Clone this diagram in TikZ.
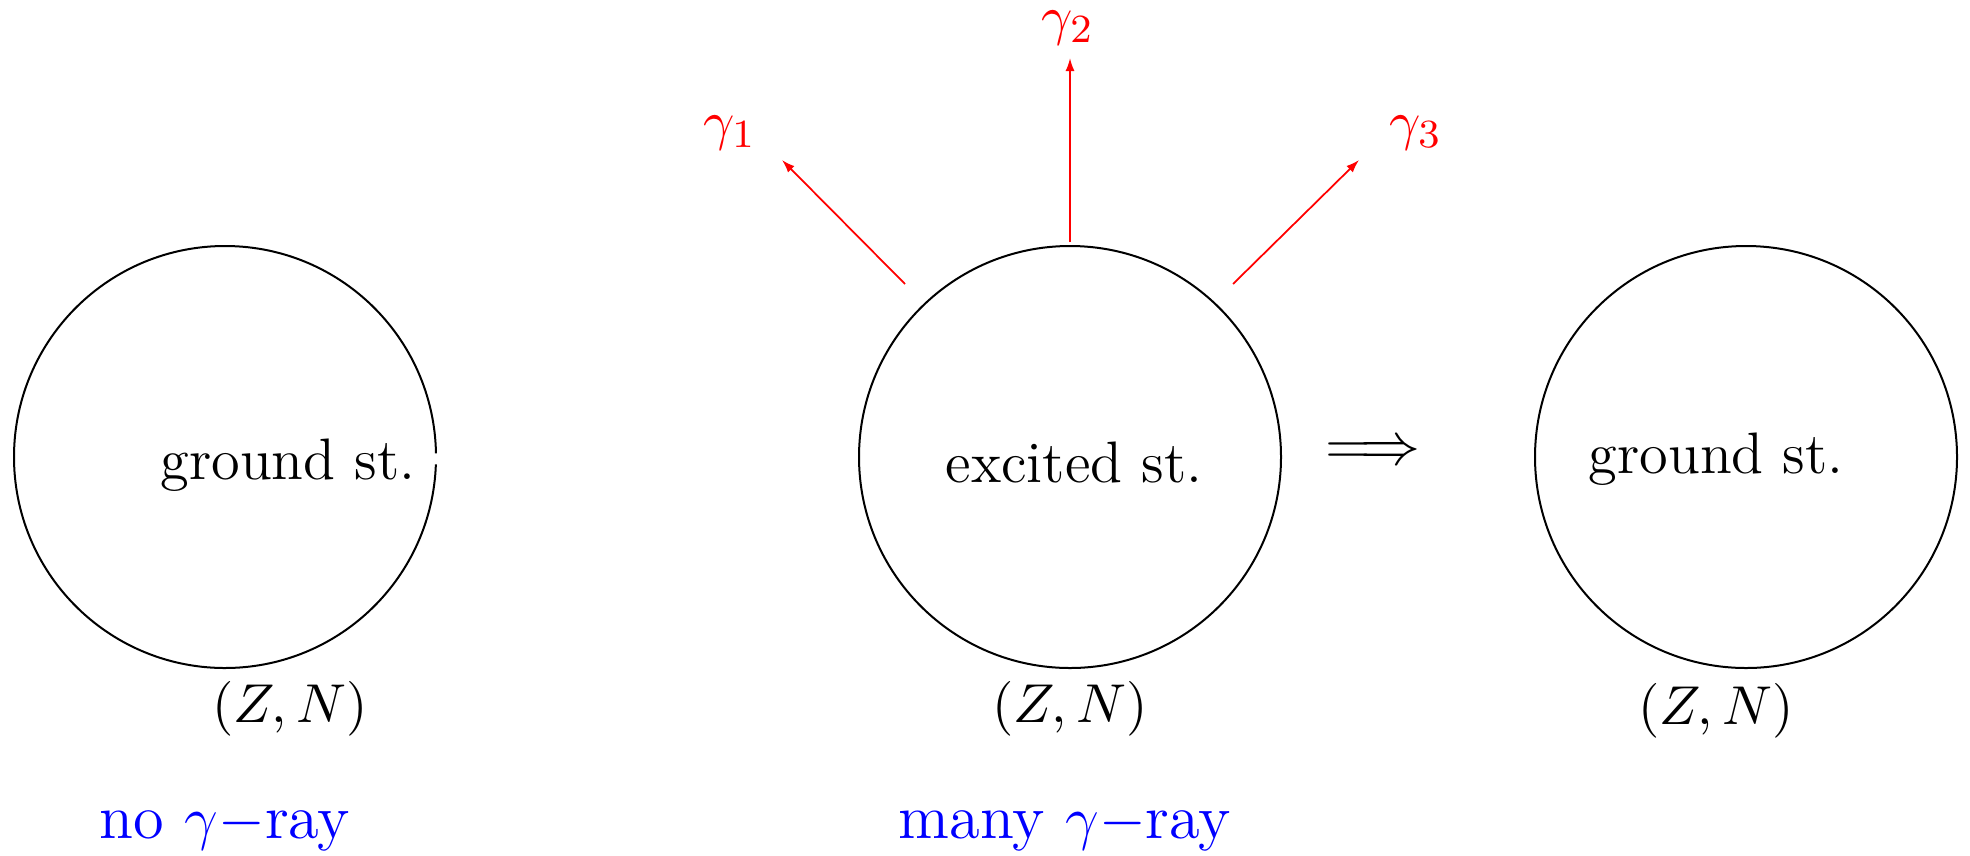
\documentclass[tikz,border=0pt]{standalone}
\usetikzlibrary{arrows.meta}
\begin{document}
\begin{tikzpicture}[x=0.2pt,y=-0.2pt,
  nucleus/.style={draw=black,line width=0.4pt},
  lbl/.style={inner sep=0pt,anchor=base,font=\fontsize{11.7}{14}\selectfont},
  zlbl/.style={inner sep=0pt,anchor=base,font=\fontsize{11.4}{14}\selectfont},
  glbl/.style={inner sep=0pt,anchor=base,text=red,font=\fontsize{11.3}{14}\selectfont},
  blbl/.style={inner sep=0pt,anchor=base,text=blue,font=\fontsize{12.5}{15}\selectfont},
  gray/.style={draw=red,line width=0.35pt,-{Latex[length=2.6pt,width=1.8pt]}}]
\useasboundingbox (0,0) rectangle (1970,855);
% circles
\coordinate (c1) at (225,457);
\coordinate (c2) at (1070,457);
\coordinate (c3) at (1746,457);
\draw[nucleus] (c1) ++(1:42.2pt) arc[start angle=1,end angle=358,radius=42.2pt];
\draw[nucleus] (c2) circle[radius=42.2pt];
\draw[nucleus] (c3) circle[radius=42.2pt];
% labels inside
\node[lbl] (g1) at (288,479) {ground st.};
\node[lbl] (ex) at (1074,482) {excited st.};
\node[lbl] (g2) at (1716,473) {ground st.};
% (Z,N)
\node[zlbl] (zn1) at (290,722) {$(Z,N)$};
\node[zlbl] (zn2) at (1070,722) {$(Z,N)$};
\node[zlbl] (zn3) at (1716,724) {$(Z,N)$};
% implies arrow
\node[inner sep=0pt,font=\fontsize{11.8}{14}\selectfont] (imp) at (1373,453) {$\Longrightarrow$};
% gamma arrows
\coordinate (a1s) at (905,284);
\coordinate (a1e) at (782,160);
\coordinate (a2s) at (1070,242);
\coordinate (a2e) at (1070,58);
\coordinate (a3s) at (1233,284);
\coordinate (a3e) at (1359,160);
\draw[gray] (a1s) -- (a1e);
\draw[gray] (a2s) -- (a2e);
\draw[gray] (a3s) -- (a3e);
\node[glbl] (gm1) at (730,139) {$\gamma_1$};
\node[glbl] (gm2) at (1068,34) {$\gamma_2$};
\node[glbl] (gm3) at (1416,139) {$\gamma_3$};
% blue captions
\node[blbl] (b1) at (225,838) {no $\gamma-$ray};
\node[blbl] (b2) at (1065,838) {many $\gamma-$ray};
\end{tikzpicture}
\end{document}
